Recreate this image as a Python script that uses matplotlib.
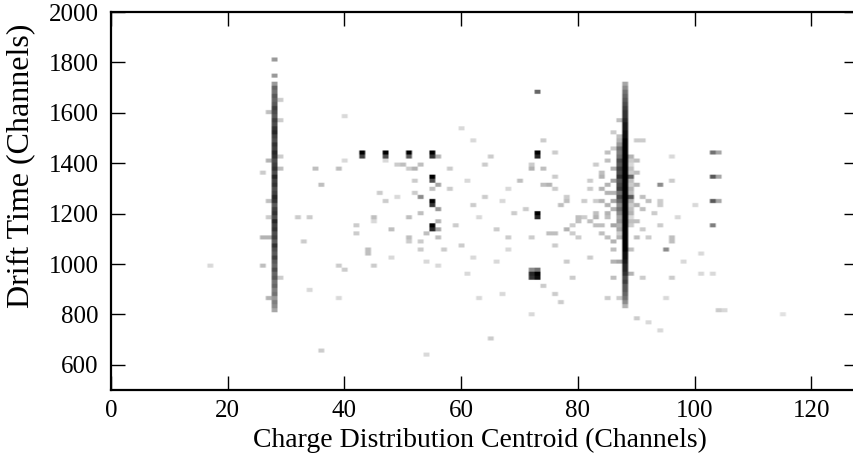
import numpy as np
import matplotlib
matplotlib.use('Agg')
import matplotlib.pyplot as plt

plt.rcParams['font.family'] = ['Liberation Serif', 'DejaVu Serif']

# ---- data (darkness 0..1 per histogram cell) ----
# vertical band at channel 28 (bins of 16 drift channels, starting at 816)
band_a_x = 28
band_a_y0 = 816
band_a_w = [0.35, 0.45, 0.50, 0.40, 0.55, 0.50, 0.60, 0.55, 0.65, 0.60,
            0.70, 0.60, 0.65, 0.75, 0.65, 0.70, 0.80, 0.65, 0.75, 0.70,
            0.80, 0.75, 0.85, 0.70, 0.80, 0.75, 0.65, 0.80, 0.85, 0.75,
            0.70, 0.80, 0.75, 0.85, 0.70, 0.80, 0.75, 0.70, 0.80, 0.85,
            0.75, 0.80, 0.70, 0.75, 0.85, 0.80, 0.70, 0.75, 0.65, 0.70,
            0.75, 0.65, 0.60, 0.65, 0.55, 0.60, 0.40, 0.00, 0.40, 0.00,
            0.00, 0.00, 0.40]
# vertical band at channel 88 (starting at 832)
band_b_x = 88
band_b_y0 = 832
band_b_w = [0.30, 0.45, 0.55, 0.60, 0.65, 0.65, 0.75, 0.70, 0.80, 0.85,
            0.85, 0.90, 0.95, 0.95, 1.00, 1.00, 1.00, 1.00, 1.00, 1.00,
            1.00, 1.00, 1.00, 1.00, 1.00, 1.00, 1.00, 1.00, 1.00, 1.00,
            1.00, 1.00, 1.00, 1.00, 1.00, 1.00, 1.00, 1.00, 1.00, 1.00,
            1.00, 1.00, 0.95, 0.95, 0.90, 0.90, 0.85, 0.80, 0.80, 0.75,
            0.70, 0.65, 0.60, 0.55, 0.45, 0.35]
# neighbouring column 87 (starting at 1104)
band_c_x = 87
band_c_y0 = 1104
band_c_w = [0.30, 0.20, 0.35, 0.30, 0.40, 0.35, 0.45, 0.55, 0.45, 0.60,
            0.70, 0.55, 0.75, 0.70, 0.65, 0.80, 0.70, 0.75, 0.65, 0.70,
            0.55, 0.50, 0.55, 0.40, 0.30, 0.25]
# neighbouring column 89 (starting at 1152)
band_d_x = 89
band_d_y0 = 1152
band_d_w = [0.20, 0.25, 0.15, 0.30, 0.25, 0.20, 0.30, 0.35, 0.25, 0.30,
            0.20, 0.25, 0.30, 0.20, 0.25, 0.15, 0.20]

# compact spots
spot_x = [43, 43, 47, 47, 51, 51, 55, 55, 55, 55, 56, 55, 55, 56,
          55, 55, 56, 73, 73, 73, 73, 73, 72, 73, 72, 73, 72, 73,
          103, 104, 103, 104, 103, 104, 103]
spot_y = [1440, 1424, 1440, 1424, 1440, 1424, 1440, 1424, 1344, 1328, 1312, 1248, 1232, 1216,
          1152, 1136, 1136, 1440, 1424, 1680, 1200, 1184, 960, 960, 944, 944, 976, 976,
          1440, 1440, 1344, 1344, 1248, 1248, 1152]
spot_w = [1.0, 0.75, 1.0, 0.70, 1.0, 0.65, 1.0, 0.80, 1.0, 0.70, 0.35, 1.0, 0.80, 0.40,
          1.0, 0.85, 0.35, 1.0, 0.85, 0.60, 1.0, 0.85, 0.85, 1.0, 0.80, 0.95, 0.45, 0.55,
          0.55, 0.35, 0.65, 0.35, 0.65, 0.35, 0.50]

# isolated events
pt_x = [17, 36, 54, 115, 104, 35, 39, 40, 36, 40, 32, 34, 33, 26, 26, 27, 39, 40, 34, 39,
        42, 42, 44, 44, 45, 45, 45, 46, 47, 47, 48, 48, 49, 49, 50, 51, 51, 52, 52, 53,
        53, 51, 51, 53, 53, 54, 54, 52, 53, 56, 56, 56, 56, 55,
        27, 29, 27, 29, 29, 27, 27, 26, 29, 27, 29,
        60, 62, 64, 65, 60, 62, 63, 58, 66, 65, 63, 61, 67, 59, 66, 58, 61, 64, 57, 62,
        74, 72, 74, 76, 72, 68, 70, 74, 75, 76, 76, 67, 69, 71, 68, 68, 77, 78, 78, 78,
        79, 80, 80, 81, 82, 83, 83, 83, 82, 83, 85, 85, 86, 86, 85, 83, 84, 85, 86, 86,
        86, 85, 87, 90, 91, 89, 90, 89, 91, 92, 90, 91, 94, 94, 94, 96, 96, 97, 94, 95,
        96, 96, 91, 96, 98, 101, 101, 103, 105, 100, 95, 90, 92, 94, 76, 77, 72, 74, 72, 75,
        76, 79, 80, 76, 78, 82, 79, 84, 84, 85, 86, 86, 86, 86, 90, 89, 90,
        84, 85, 86, 84, 85, 86, 90, 91, 90, 89, 86, 85, 84, 81, 82, 93, 92, 87, 87, 89]
pt_y = [992, 650, 640, 795, 815, 1373, 1377, 1400, 1310, 1583, 1190, 1179, 1083, 1360, 992, 1111, 992, 968, 893, 869,
        1155, 1123, 1063, 1040, 1190, 1163, 992, 1282, 1242, 1400, 1143, 1024, 1397, 1262, 1393, 1179, 1373, 1274, 1373, 1262,
        1389, 1111, 1091, 1083, 1048, 1123, 1000, 1333, 1194, 1111, 988, 1167, 1425, 1302,
        1400, 1380, 1600, 1560, 1420, 1250, 1190, 1100, 940, 870, 1650,
        1530, 1490, 1393, 1425, 1075, 1234, 1180, 1290, 1000, 710, 860, 960, 880, 1150, 1140, 1380, 1330, 1270, 1050, 1020,
        1484, 1381, 1381, 1433, 1385, 1302, 1321, 1313, 1313, 1341, 1302, 1242, 1194, 1214, 1107, 1048, 1226, 1246, 1262, 1143,
        1147, 1187, 1163, 1187, 1175, 1183, 1155, 1242, 1294, 1393, 1313, 1274, 1242, 1214, 1202, 1194, 1115, 1107, 1095, 1056,
        948, 865, 869, 1484, 1484, 1341, 1313, 1266, 1262, 1254, 1226, 1214, 1313, 1246, 1226, 1333, 1421, 1187, 1155, 1048,
        1083, 1103, 948, 948, 1004, 1044, 964, 964, 817, 1226, 857, 790, 760, 740, 877, 850, 798, 909, 1103, 1115,
        1123, 1123, 1107, 1068, 1004, 1024, 937, 1300, 1350, 1400, 1150, 1000, 1330, 1380, 1100, 1050, 1400,
        1240, 1180, 1280, 1360, 1440, 1460, 1170, 1140, 1360, 1420, 1520, 1230, 1150, 1240, 1330, 1200, 1100, 1560, 1010, 960]
pt_w = [0.15, 0.20, 0.15, 0.12, 0.20, 0.25, 0.25, 0.15, 0.25, 0.15, 0.20, 0.20, 0.20, 0.20, 0.25, 0.30, 0.20, 0.20, 0.15, 0.15,
        0.20, 0.20, 0.25, 0.25, 0.25, 0.15, 0.20, 0.20, 0.20, 0.15, 0.25, 0.15, 0.20, 0.15, 0.25, 0.25, 0.20, 0.20, 0.30, 0.45,
        0.25, 0.25, 0.20, 0.20, 0.20, 0.25, 0.15, 0.20, 0.25, 0.25, 0.15, 0.30, 0.30, 0.25,
        0.30, 0.25, 0.25, 0.20, 0.20, 0.25, 0.20, 0.30, 0.20, 0.30, 0.20,
        0.15, 0.15, 0.20, 0.20, 0.20, 0.20, 0.15, 0.20, 0.15, 0.20, 0.15, 0.15, 0.15, 0.20, 0.20, 0.20, 0.15, 0.20, 0.20, 0.15,
        0.20, 0.30, 0.25, 0.20, 0.20, 0.15, 0.25, 0.25, 0.30, 0.20, 0.20, 0.15, 0.20, 0.20, 0.20, 0.15, 0.25, 0.25, 0.20, 0.30,
        0.20, 0.25, 0.25, 0.20, 0.25, 0.30, 0.25, 0.20, 0.20, 0.20, 0.30, 0.30, 0.35, 0.30, 0.30, 0.25, 0.25, 0.25, 0.30, 0.25,
        0.25, 0.20, 0.20, 0.20, 0.20, 0.30, 0.30, 0.30, 0.25, 0.25, 0.30, 0.25, 0.45, 0.20, 0.20, 0.20, 0.15, 0.15, 0.20, 0.45,
        0.25, 0.25, 0.20, 0.20, 0.15, 0.15, 0.15, 0.15, 0.15, 0.15, 0.15, 0.20, 0.15, 0.15, 0.20, 0.20, 0.15, 0.20, 0.20, 0.25,
        0.25, 0.20, 0.20, 0.20, 0.20, 0.20, 0.20, 0.30, 0.30, 0.25, 0.35, 0.30, 0.35, 0.30, 0.25, 0.25, 0.25,
        0.30, 0.25, 0.30, 0.25, 0.25, 0.20, 0.25, 0.20, 0.25, 0.30, 0.20, 0.30, 0.25, 0.20, 0.20, 0.20, 0.20, 0.25, 0.35, 0.30]

# ---- assemble histogram ----
xs, ys, ws = [], [], []
for bx, by0, bw in [(band_a_x, band_a_y0, band_a_w), (band_b_x, band_b_y0, band_b_w),
                    (band_c_x, band_c_y0, band_c_w), (band_d_x, band_d_y0, band_d_w)]:
    for i, w in enumerate(bw):
        xs.append(bx); ys.append(by0 + 16 * i); ws.append(w)
xs += spot_x + pt_x
ys += spot_y + pt_y
ws += spot_w + pt_w

x_edges = np.arange(-0.5, 128.5, 1.0)
y_edges = np.arange(-8, 2048 + 9, 16)
H, xe, ye = np.histogram2d(xs, ys, bins=[x_edges, y_edges], weights=ws)
H = np.clip(H, 0, 1)
# soften cell edges slightly (display only)
H_disp = np.kron(H.T, np.ones((3, 3)))

fig = plt.figure(figsize=(8.54, 4.61), dpi=100)
ax = fig.add_axes([111 / 854, 71 / 461, 747 / 854, 378 / 461])
ax.imshow(H_disp, origin='lower', extent=[xe[0], xe[-1], ye[0], ye[-1]], cmap='gray_r',
          vmin=0, vmax=1, interpolation='bilinear', aspect='auto')
ax.set_xlim(0, 128)
ax.set_ylim(500, 2000)
ax.set_xticks([0, 20, 40, 60, 80, 100, 120])
ax.set_yticks([600, 800, 1000, 1200, 1400, 1600, 1800, 2000])
ax.tick_params(direction='in', length=10, width=1, top=True, right=True, labelsize=18)
ax.tick_params(axis='x', pad=7)
ax.tick_params(axis='y', pad=9)
for s in ax.spines.values():
    s.set_linewidth(1.6)
ax.set_xlabel('Charge Distribution Centroid (Channels)', fontsize=20)
ax.xaxis.set_label_coords((480 - 111) / 747, (390 - 428) / 378)
ax.set_ylabel('Drift Time (Channels)', fontsize=23)
ax.yaxis.set_label_coords((35 - 111) / 747, (390 - 166) / 378)
fig.savefig('out.png', dpi=100)
